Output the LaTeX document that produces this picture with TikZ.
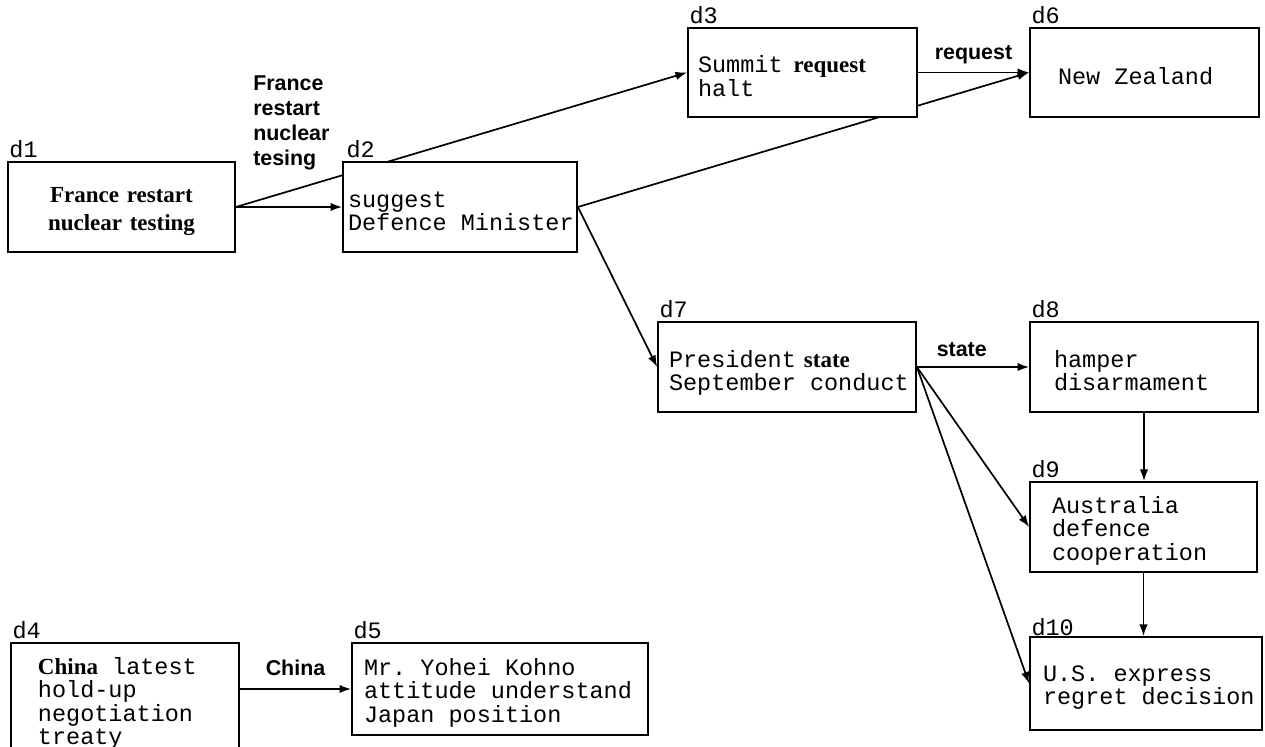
\documentclass[tikz,border=0pt]{standalone}
\usepackage{fontspec}
\usetikzlibrary{positioning,arrows.meta,backgrounds}
\newfontfamily\dmonofont{Liberation Mono}
\newfontfamily\dseriffont{Liberation Serif}
\newfontfamily\dsansfont{Liberation Sans}
\newcommand{\dmono}{\dmonofont\fontsize{11.75}{11.75}\selectfont}
\newcommand{\dsans}{\dsansfont\bfseries\fontsize{10.7}{12.5}\selectfont}
\newcommand{\dbold}[1]{{\dseriffont\bfseries\fontsize{11.5}{11.75}\selectfont #1}}
\newcommand{\msp}{\kern7.05pt}
\tikzset{
  box/.style={draw, fill=white, line width=0.9pt, inner ysep=0pt, align=left, font=\dmono, lower=12pt},
  lower/.style={execute at begin node={\rule{0pt}{#1}}},
  bfbox/.style={align=center, font={\dseriffont\bfseries\fontsize{11.5}{14}\selectfont}},
  lab/.style={font=\dmono, inner sep=0pt, anchor=base west},
  elab/.style={font=\dsans, inner sep=0pt},
  link/.style={line width=0.85pt, -{Latex[length=5.8pt,width=4.2pt]}}
}
\begin{document}
\begin{tikzpicture}[x=0.5pt,y=-0.5pt]
\useasboundingbox (0,0) rectangle (1265,747);
% boxes
\node[box, bfbox, lower=12.5pt, minimum width=113.5pt, minimum height=45pt, text width=109.5pt, inner xsep=2pt] (d1) at (121.5,207) {France restart\\nuclear testing};
\node[box, minimum width=117pt, minimum height=45pt, text width=112pt, inner xsep=2.5pt] (d2) at (460,207) {suggest\\Defence\msp Minister};
\node[box, lower=0pt, minimum width=114.5pt, minimum height=44.5pt, text width=104.5pt, inner xsep=5pt] (d3) at (802.5,72.5) {Summit\kern5.5pt\dbold{request}\\halt};
\node[box, lower=0pt, minimum width=114pt, minimum height=57pt, text width=87pt, inner xsep=13.5pt] (d4) at (125,700) {\dbold{China}\msp latest\\hold-up\\negotiation\\treaty};
\node[box, minimum width=148pt, minimum height=46pt, text width=136pt, inner xsep=6pt] (d5) at (500,689) {Mr.\msp Yohei\msp Kohno\\attitude\msp understand\\Japan\msp position};
\node[box, lower=12.5pt, minimum width=114.5pt, minimum height=44.5pt, text width=86.5pt, inner xsep=14pt] (d6) at (1144.5,72.5) {New\msp Zealand};
\node[box, lower=14.5pt, minimum width=129pt, minimum height=45pt, text width=118pt, inner xsep=5.5pt] (d7) at (787,367) {President\kern4pt\dbold{state}\\September\msp conduct};
\node[box, lower=0pt, minimum width=114pt, minimum height=45pt, text width=90pt, inner xsep=12pt] (d8) at (1144,367) {hamper\\disarmament};
\node[box, minimum width=113.5pt, minimum height=45pt, text width=91.5pt, inner xsep=11pt] (d9) at (1143.5,527) {Australia\\defence\\cooperation};
\node[box, lower=0pt, minimum width=116pt, minimum height=46.5pt, text width=103pt, inner xsep=6.5pt] (d10) at (1146,683.5) {U.S.\msp express\\regret\msp decision};
% box names
\node[lab] (n1) at ([shift={(1pt,2pt)}]d1.north west) {d1};
\node[lab] (n2) at ([shift={(2pt,2pt)}]d2.north west) {d2};
\node[lab] (n3) at ([shift={(1pt,2pt)}]d3.north west) {d3};
\node[lab] (n4) at ([shift={(1pt,2pt)}]d4.north west) {d4};
\node[lab] (n5) at ([shift={(1pt,2pt)}]d5.north west) {d5};
\node[lab] (n6) at ([shift={(1pt,2pt)}]d6.north west) {d6};
\node[lab] (n7) at ([shift={(1pt,2pt)}]d7.north west) {d7};
\node[lab] (n8) at ([shift={(1pt,2pt)}]d8.north west) {d8};
\node[lab] (n9) at ([shift={(1pt,2pt)}]d9.north west) {d9};
\node[lab] (n10) at ([shift={(1pt,0.5pt)}]d10.north west) {d10};
\node[elab, align=left, anchor=south west] (lfra) at ([xshift=8.5pt,yshift=-4.5pt]d1.north east) {France\\restart\\nuclear\\tesing};
% links
\begin{scope}[on background layer]
\draw[link] (d1.east) -- (d2.west);
\draw[link] (d1.east) -- (d3.west);
\draw[link] (d2.east) -- (d6.west);
\draw[link] (d2.east) -- (d7.west);
\draw[link] (d3.east) -- node[elab, above=4pt] (lreq) {request} (d6.west);
\draw[link] (d7.east) -- node[elab, pos=0.4, above=4.5pt] (lsta) {state} (d8.west);
\draw[link] (d7.east) -- (d9.west);
\draw[link] (d7.east) -- (d10.west);
\draw[link] (d8.south) -- (d8.south |- d9.north);
\draw[link] (d9.south) -- (d9.south |- d10.north);
\draw[link] (d5.west -| d4.east) -- node[elab, above=6pt] (lchi) {China} (d5.west);
\end{scope}
\end{tikzpicture}
\end{document}
